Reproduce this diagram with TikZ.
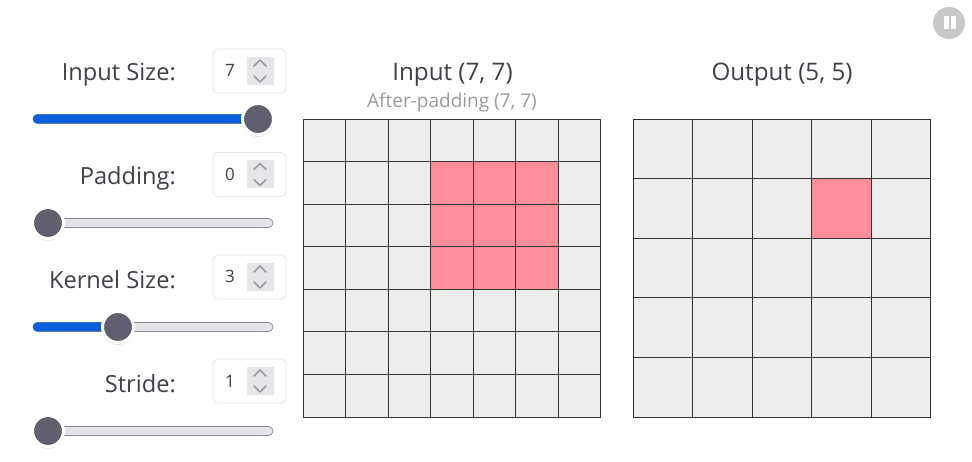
\documentclass[tikz,border=0pt]{standalone}
\usepackage{fontspec}
\setmainfont{Open Sans}
\usetikzlibrary{calc}
\definecolor{txtdark}{HTML}{3F4148}
\definecolor{txtgray}{HTML}{9B9B9F}
\definecolor{cellgray}{HTML}{EDEDED}
\definecolor{cellred}{HTML}{FF8E9A}
\definecolor{gridline}{HTML}{333333}
\definecolor{trackgray}{HTML}{E4E4EA}
\definecolor{trackedge}{HTML}{8A8A92}
\definecolor{trackblue}{HTML}{0A5FE0}
\definecolor{thumbgray}{HTML}{5F5F70}
\definecolor{spingray}{HTML}{E6E6EA}
\definecolor{chevgray}{HTML}{9A9AA0}
\definecolor{boxedge}{HTML}{E6E6E8}
\definecolor{pausegray}{HTML}{C8C8C8}
\tikzset{
  labeltxt/.style={anchor=base east,text=txtdark,font=\fontsize{23.6}{26}\selectfont,inner sep=0},
  titletxt/.style={anchor=base,text=txtdark,font=\fontsize{24.2}{26}\selectfont,inner sep=0},
  subtxt/.style={anchor=base,text=txtgray,font=\fontsize{19}{21}\selectfont,inner sep=0},
  valtxt/.style={anchor=base,text=txtdark,font=\fontsize{17}{20}\selectfont,inner sep=0},
  numbox/.style={draw=boxedge,line width=0.8pt,fill=white,rounded corners=5pt,minimum width=73pt,minimum height=44pt,inner sep=0},
  spinbox/.style={fill=spingray,minimum width=27pt,minimum height=28pt,inner sep=0},
  chevron/.style={draw=chevgray,line width=1.6pt,line cap=round,line join=round},
  track/.style={draw=trackedge,line width=0.7pt,fill=trackgray,rounded corners=4.5pt},
  trackfill/.style={fill=trackblue,rounded corners=4pt},
  thumbdot/.style={circle,fill=thumbgray,draw=white,line width=3pt,minimum size=31pt,inner sep=0},
  thumbshade/.style={circle,fill=black,opacity=0.10,minimum size=32pt,inner sep=0},
  cellin/.style={draw=gridline,line width=1pt,minimum size=42.5pt,inner sep=0,outer sep=0},
  cellout/.style={draw=gridline,line width=1pt,minimum size=59.5pt,inner sep=0,outer sep=0},
}
\begin{document}
\begin{tikzpicture}[x=1pt,y=-1pt]
	\useasboundingbox (0,0) rectangle (972,462);
	\fill[white] (0,0) rectangle (972,462);
	% controls on the left
	\foreach \nm/\txt/\val/\y/\ly/\sy/\thumbx in {size/Input Size:/7/71/81/119/258,pad/Padding:/0/174.5/185/223/48,kern/Kernel Size:/3/277/288.5/327/118,stride/Stride:/1/381/392.5/431/48}{
		\node[labeltxt] (\nm label) at (176,\ly) {\txt};
		\node[numbox] (\nm box) at (249.5,\y) {};
		\node[spinbox] (\nm spin) at (260,\y) {};
		\node[valtxt] (\nm val) at (230,\y+6) {\val};
		\draw[chevron] ($(\nm spin)+(-6,-5)$) -- ($(\nm spin)+(0,-11)$) -- ($(\nm spin)+(6,-5)$);
		\draw[chevron] ($(\nm spin)+(-6,5)$) -- ($(\nm spin)+(0,11)$) -- ($(\nm spin)+(6,5)$);
		\coordinate (\nm start) at (33,\sy-4.5);
		\coordinate (\nm end) at (273,\sy+4.5);
		\draw[track] (\nm start) rectangle (\nm end);
		\fill[trackfill] (\nm start) rectangle (\thumbx,\sy+4.5);
		\node[thumbshade] at (\thumbx,\sy+2) {};
		\node[thumbdot] (\nm thumb) at (\thumbx,\sy) {};
	}
	% pause button
	\node[circle,fill=pausegray,minimum size=32pt,inner sep=0] (pause) at (949,23) {};
	\fill[white] ($(pause)+(-5.5,-6.5)$) rectangle ($(pause)+(-0.5,6.5)$);
	\fill[white] ($(pause)+(1.5,-6.5)$) rectangle ($(pause)+(6.5,6.5)$);
	% titles
	\node[titletxt] (intitle) at (452.5,81) {Input (7, 7)};
	\node[subtxt] (insub) at (452,108) {After-padding (7, 7)};
	\node[titletxt] (outtitle) at (782,81) {Output (5, 5)};
	% input grid
	\foreach \i in {0,...,6}{
		\foreach \j in {0,...,6}{
			\pgfmathsetmacro{\cx}{303+42.5*(\i+0.5)}
			\pgfmathsetmacro{\cy}{119.5+42.5*(\j+0.5)}
			\pgfmathsetmacro{\hit}{(\i>2)*(\i<6)*(\j>0)*(\j<4)}
			\ifdim\hit pt>0pt
				\node[cellin,fill=cellred] (in\i\j) at (\cx,\cy) {};
			\else
				\node[cellin,fill=cellgray] (in\i\j) at (\cx,\cy) {};
			\fi
		}
	}
	% output grid
	\foreach \i in {0,...,4}{
		\foreach \j in {0,...,4}{
			\pgfmathsetmacro{\cx}{633+59.5*(\i+0.5)}
			\pgfmathsetmacro{\cy}{119.5+59.5*(\j+0.5)}
			\pgfmathsetmacro{\hit}{(\i==3)*(\j==1)}
			\ifdim\hit pt>0pt
				\node[cellout,fill=cellred] (out\i\j) at (\cx,\cy) {};
			\else
				\node[cellout,fill=cellgray] (out\i\j) at (\cx,\cy) {};
			\fi
		}
	}
\end{tikzpicture}
\end{document}
